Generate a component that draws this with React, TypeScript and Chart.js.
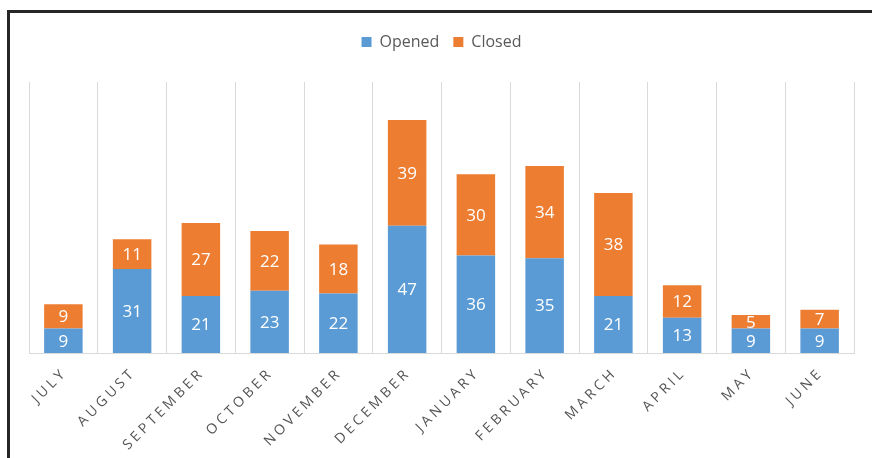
import React, { useEffect, useRef } from "react";
import { Chart, registerables } from "chart.js";

Chart.register(...registerables);

const months = ["JULY", "AUGUST", "SEPTEMBER", "OCTOBER", "NOVEMBER", "DECEMBER", "JANUARY", "FEBRUARY", "MARCH", "APRIL", "MAY", "JUNE"];
const opened = [9, 31, 21, 23, 22, 47, 36, 35, 21, 13, 9, 9];
const closed = [9, 11, 27, 22, 18, 39, 30, 34, 38, 12, 5, 7];

const BLUE = "#5B9BD5";
const ORANGE = "#ED7D31";
const GRID = "#D9D9D9";
const TEXT = "#595959";
const FONT = "'Open Sans', 'Noto Sans', sans-serif";

const labelsPlugin = {
  id: "barLabels",
  afterDatasetsDraw(chart: any) {
    const ctx = chart.ctx;
    ctx.save();
    ctx.font = `17px ${FONT}`;
    ctx.fillStyle = "#FFFFFF";
    ctx.textAlign = "center";
    ctx.textBaseline = "middle";
    chart.data.datasets.forEach((ds: any, di: number) => {
      const meta = chart.getDatasetMeta(di);
      meta.data.forEach((bar: any, i: number) => {
        const v = ds.data[i];
        const cy = (bar.y + bar.base) / 2;
        ctx.fillText(String(v), bar.x, cy + 1);
      });
    });
    ctx.restore();
  },
  afterDraw(chart: any) {
    const ctx = chart.ctx;
    const xs = chart.scales.x;
    const spacing = 3.5;
    ctx.save();
    ctx.font = `14px ${FONT}`;
    ctx.fillStyle = "#545454";
    (ctx as any).letterSpacing = `${spacing}px`;
    ctx.textAlign = "right";
    ctx.textBaseline = "middle";
    chart.data.labels.forEach((lab: string, i: number) => {
      const x = xs.getPixelForValue(i) - 1;
      const y = xs.top + 20;
      ctx.save();
      ctx.translate(x, y);
      ctx.rotate(-Math.PI / 4);
      ctx.fillText(lab, spacing, 0);
      ctx.restore();
    });
    ctx.restore();
  },
};

export default function App() {
  const ref = useRef<HTMLCanvasElement | null>(null);
  useEffect(() => {
    if (!ref.current) return;
    const chart = new Chart(ref.current, {
      type: "bar",
      data: {
        labels: months,
        datasets: [
          { label: "Opened", data: opened, backgroundColor: BLUE, borderWidth: 0, barPercentage: 0.56, categoryPercentage: 1, xAxisID: "x" },
          { label: "Closed", data: closed, backgroundColor: ORANGE, borderWidth: 0, barPercentage: 0.56, categoryPercentage: 1, xAxisID: "x" },
        ],
      },
      options: {
        responsive: false,
        animation: false,
        devicePixelRatio: 1,
        layout: { padding: { left: 29, right: 18, top: 20, bottom: 0 } },
        plugins: {
          legend: {
            position: "top",
            labels: {
              boxWidth: 10,
              boxHeight: 10,
              padding: 14,
              color: TEXT,
              font: { family: FONT, size: 16 },
            },
          },
          tooltip: { enabled: false },
        },
        scales: {
          x: {
            stacked: true,
            position: "bottom",
            grid: { color: GRID, offset: true, drawTicks: false, lineWidth: 1 },
            border: { display: true, color: GRID },
            ticks: { display: false },
            afterFit: (s: any) => { s.height = 105; },
          },
          xTop: {
            type: "category",
            position: "top",
            display: true,
            grid: { display: false },
            border: { display: false },
            ticks: { display: false },
            afterFit: (s: any) => { s.height = 22; },
          },
          y: {
            stacked: true,
            display: false,
            min: 0,
            max: 100,
          },
        },
      },
      plugins: [labelsPlugin],
    } as any);
    return () => chart.destroy();
  }, []);

  return (
    <div style={{ position: "fixed", left: 0, top: 0, width: 872, height: 458, background: "#FFFFFF", overflow: "hidden" }}>
      <canvas ref={ref} width={872} height={458} style={{ position: "absolute", left: 0, top: 0, width: 872, height: 458 }} />
      <div style={{ position: "absolute", left: 7, top: 10, width: 900, height: 500, borderTop: "3px solid #262626", borderLeft: "3px solid #262626", pointerEvents: "none" }} />
    </div>
  );
}
